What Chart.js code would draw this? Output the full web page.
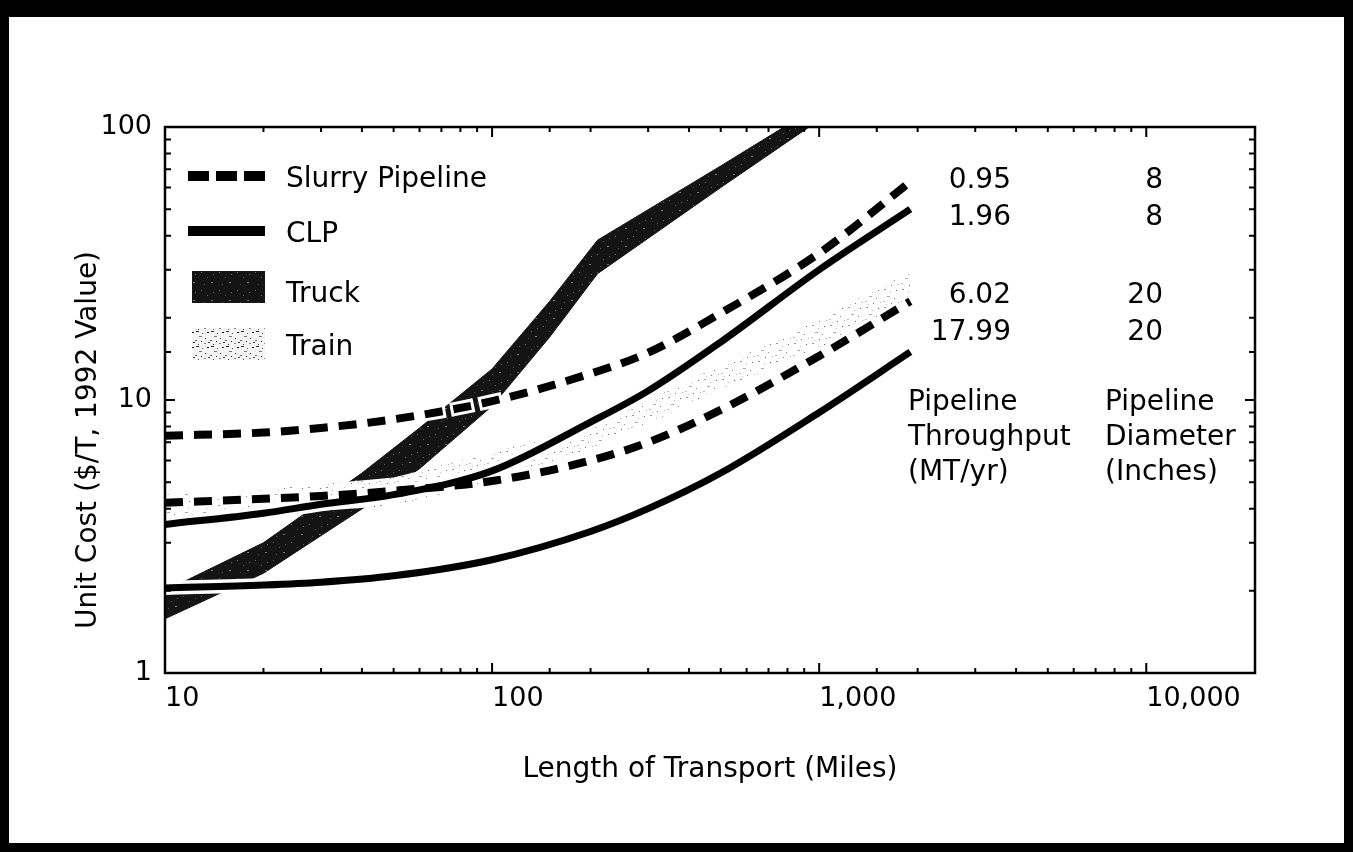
<!DOCTYPE html>
<html>
<head>
<meta charset="utf-8">
<title>Unit cost vs length of transport</title>
<script src="https://cdn.jsdelivr.net/npm/chart.js@4.4.1/dist/chart.umd.min.js"></script>
<style>
  html, body { margin: 0; padding: 0; background: #fff; }
  #wrap { position: relative; width: 1353px; height: 852px; }
  #frame { position: absolute; left: 0; top: 0; right: 0; bottom: 0; border-style: solid; border-color: #000;
           border-width: 17px 9px 9px 9px; box-sizing: border-box; pointer-events: none; }
</style>
</head>
<body>
<div id="wrap">
  <canvas id="costChart"></canvas>
  <div id="frame"></div>
</div>
<script>
// Unit cost of transport by mode, log-log
const distances = [10, 20, 30, 50, 100, 200, 300, 500, 1000, 1900];
const slurry095 = [7.4, 7.6, 7.9, 8.5, 9.9, 12.5, 14.9, 20.8, 34.5, 63];
const clp196 = [3.5, 3.85, 4.15, 4.5, 5.5, 8.3, 10.8, 16.3, 30, 50];
const slurry602 = [4.2, 4.35, 4.45, 4.65, 5.05, 6.0, 7.0, 9.2, 14.5, 23];
const clp1799 = [2.05, 2.1, 2.15, 2.27, 2.6, 3.3, 4.0, 5.4, 9.0, 15];

const truckMiles = [10, 20, 40, 60, 100, 150, 210, 500, 1000];
const truckLow = [1.58, 2.32, 3.99, 5.6, 9.5, 17, 29, 60, 106];
const truckHigh = [2.0, 3.0, 5.4, 7.9, 13.0, 23, 38.5, 72, 120];

const trainMiles = [10, 20, 50, 100, 200, 300, 500, 1000, 1900];
const trainLow = [3.7, 3.8, 4.1, 5.0, 6.6, 8.2, 11.0, 15.5, 23.5];
const trainHigh = [4.5, 4.7, 5.2, 6.4, 8.4, 10.0, 13.5, 19.6, 30];

const throughputs = ["0.95", "1.96", "6.02", "17.99"];
const diameters = ["8", "8", "20", "20"];
const legendLabels = ["Slurry Pipeline", "CLP", "Truck", "Train"];

const xTickValues = [10, 100, 1000, 10000];
const xTickLabels = ["10", "100", "1,000", "10,000"];
const yTickValues = [1, 10, 100];
const yTickLabels = ["1", "10", "100"];

const FONT = "'DejaVu Sans', sans-serif";
Chart.defaults.font.family = FONT;
Chart.defaults.font.size = 27;
Chart.defaults.color = "#000";

const pts = (xs, ys) => xs.map((x, i) => ({ x: x, y: ys[i] }));

// speckled fills for the two bands
function speckle(bg, dots, size) {
  const c = document.createElement("canvas");
  c.width = size; c.height = size;
  const g = c.getContext("2d");
  g.fillStyle = bg;
  g.fillRect(0, 0, size, size);
  dots.forEach(d => { g.fillStyle = d[2]; g.fillRect(d[0], d[1], d[3] || 1, 1); });
  return g.createPattern(c, "repeat");
}
const ctx0 = document.getElementById("costChart").getContext("2d");
const truckFill = speckle("#141414", [[3, 2, "#6a6a6a"], [9, 7, "#555"], [13, 12, "#777", 2], [6, 14, "#4a4a4a"], [15, 4, "#666"]], 18);
const trainFill = speckle("#ffffff", [[2, 1, "#999", 2], [8, 4, "#bbb"], [14, 2, "#666"], [5, 8, "#aaa", 3], [12, 10, "#888"],
  [1, 13, "#bbb", 2], [9, 15, "#777"], [16, 14, "#aaa"], [4, 16, "#ccc"]], 18);
const trainKeyFill = speckle("#f4f4f4", [[1, 1, "#333", 3], [7, 3, "#555"], [12, 2, "#222", 2], [4, 6, "#777", 3], [10, 8, "#333"],
  [0, 10, "#666", 2], [6, 11, "#222"], [13, 12, "#444", 2], [3, 14, "#555"], [9, 13, "#888", 2]], 15);

const isDecade = v => Math.abs(Math.log10(v) - Math.round(Math.log10(v))) < 1e-9;

function lineSet(label, ys, dashed) {
  return {
    label: label, data: pts(distances, ys), borderColor: "#000", borderWidth: dashed ? 8 : 7,
    borderDash: dashed ? [18, 11] : [], borderCapStyle: "butt", pointRadius: 0,
    fill: false, cubicInterpolationMode: "monotone", order: 1
  };
}
function haloSet(ys, dashed) {
  return {
    label: "", data: pts(distances, ys), borderColor: "#fff", borderWidth: 14,
    borderDash: dashed ? [24, 5] : [], borderDashOffset: dashed ? 3 : 0, borderCapStyle: "butt",
    pointRadius: 0, fill: false, cubicInterpolationMode: "monotone", order: 5
  };
}

const decorations = {
  id: "decorations",
  afterDraw(chart) {
    const ctx = chart.ctx;
    const { left, right, top, bottom } = chart.chartArea;
    const xs = chart.scales.x, ys = chart.scales.y;
    ctx.save();
    // inward tick marks on all four sides
    ctx.strokeStyle = "#000";
    ctx.lineWidth = 2;
    ctx.beginPath();
    xs.ticks.forEach(t => {
      if (t.value > 10000) return;
      const p = xs.getPixelForValue(t.value);
      const len = isDecade(t.value) ? 10 : 5;
      ctx.moveTo(p, bottom); ctx.lineTo(p, bottom - len);
      ctx.moveTo(p, top); ctx.lineTo(p, top + len);
    });
    ys.ticks.forEach(t => {
      const p = ys.getPixelForValue(t.value);
      const len = isDecade(t.value) ? 10 : 6;
      ctx.moveTo(left, p); ctx.lineTo(left + len, p);
      ctx.moveTo(right, p); ctx.lineTo(right - len, p);
    });
    ctx.stroke();
    ctx.lineWidth = 2.5;
    ctx.strokeRect(left, top, right - left, bottom - top);

    // legend keys
    ctx.lineWidth = 10;
    ctx.setLineDash([21, 7]);
    ctx.beginPath(); ctx.moveTo(188, 176); ctx.lineTo(265, 176); ctx.stroke();
    ctx.setLineDash([]);
    ctx.beginPath(); ctx.moveTo(188, 231); ctx.lineTo(265, 231); ctx.stroke();
    ctx.fillStyle = truckFill; ctx.fillRect(192, 271, 73, 32);
    ctx.fillStyle = trainKeyFill; ctx.fillRect(192, 328, 73, 32);

    ctx.fillStyle = "#000";
    ctx.font = "28px " + FONT;
    ctx.textBaseline = "alphabetic";
    ctx.textAlign = "left";
    [187, 242, 302, 355].forEach((y, i) => ctx.fillText(legendLabels[i], 286, y));

    // pipeline table on the right
    const rows = [188, 225, 303, 340];
    ctx.textAlign = "right";
    rows.forEach((y, i) => {
      ctx.fillText(throughputs[i], 1011, y);
      ctx.fillText(diameters[i], 1163, y);
    });
    ctx.textAlign = "left";
    ["Pipeline", "Throughput", "(MT/yr)"].forEach((s, i) => ctx.fillText(s, 908, 410 + i * 35));
    ["Pipeline", "Diameter", "(Inches)"].forEach((s, i) => ctx.fillText(s, 1105, 410 + i * 35));

    // y-axis title
    ctx.translate(89, 440);
    ctx.rotate(-Math.PI / 2);
    ctx.textAlign = "center";
    ctx.textBaseline = "middle";
    ctx.fillText("Unit Cost ($/T, 1992 Value)", 0, 0);
    ctx.restore();
  }
};

new Chart(ctx0, {
  type: "line",
  data: {
    datasets: [
      { label: "Truck low", data: pts(truckMiles, truckLow), borderColor: "#141414", borderWidth: 1,
        pointRadius: 0, fill: false, tension: 0, order: 10 },
      { label: "Truck", data: pts(truckMiles, truckHigh), borderColor: "#141414", borderWidth: 1,
        pointRadius: 0, fill: "-1", backgroundColor: truckFill, tension: 0, order: 10 },
      { label: "Train low", data: pts(trainMiles, trainLow), borderColor: "rgba(0,0,0,0)", borderWidth: 0,
        pointRadius: 0, fill: false, tension: 0, order: 9 },
      { label: "Train", data: pts(trainMiles, trainHigh), borderColor: "rgba(0,0,0,0)", borderWidth: 0,
        pointRadius: 0, fill: "-1", backgroundColor: trainFill, tension: 0, order: 9 },
      haloSet(slurry095, true),
      haloSet(clp196, false),
      haloSet(slurry602, true),
      haloSet(clp1799, false),
      lineSet("Slurry Pipeline 0.95 MT/yr, 8 in", slurry095, true),
      lineSet("CLP 1.96 MT/yr, 8 in", clp196, false),
      lineSet("Slurry Pipeline 6.02 MT/yr, 20 in", slurry602, true),
      lineSet("CLP 17.99 MT/yr, 20 in", clp1799, false)
    ]
  },
  options: {
    responsive: true,
    maintainAspectRatio: false,
    animation: false,
    layout: { padding: { left: 0, top: 127, right: 98, bottom: 0 } },
    plugins: { legend: { display: false }, tooltip: { enabled: false } },
    scales: {
      x: {
        type: "logarithmic",
        min: 10,
        max: 21500,
        grid: { display: false, drawTicks: false },
        border: { display: false },
        ticks: {
          autoSkip: false, maxRotation: 0, align: "start", padding: 10,
          callback: v => { const i = xTickValues.indexOf(v); return i >= 0 ? xTickLabels[i] : ""; }
        },
        title: { display: true, text: "Length of Transport (Miles)", font: { size: 28 }, padding: { top: 0, bottom: 65 } },
        afterFit: s => { s.height = 179; }
      },
      y: {
        type: "logarithmic",
        min: 1,
        max: 100,
        grid: { display: false, drawTicks: false },
        border: { display: false },
        ticks: {
          autoSkip: false, padding: 13,
          callback: v => { const i = yTickValues.indexOf(v); return i >= 0 ? yTickLabels[i] : ""; }
        },
        afterFit: s => { s.width = 165; }
      }
    }
  },
  plugins: [decorations]
});
</script>
</body>
</html>
